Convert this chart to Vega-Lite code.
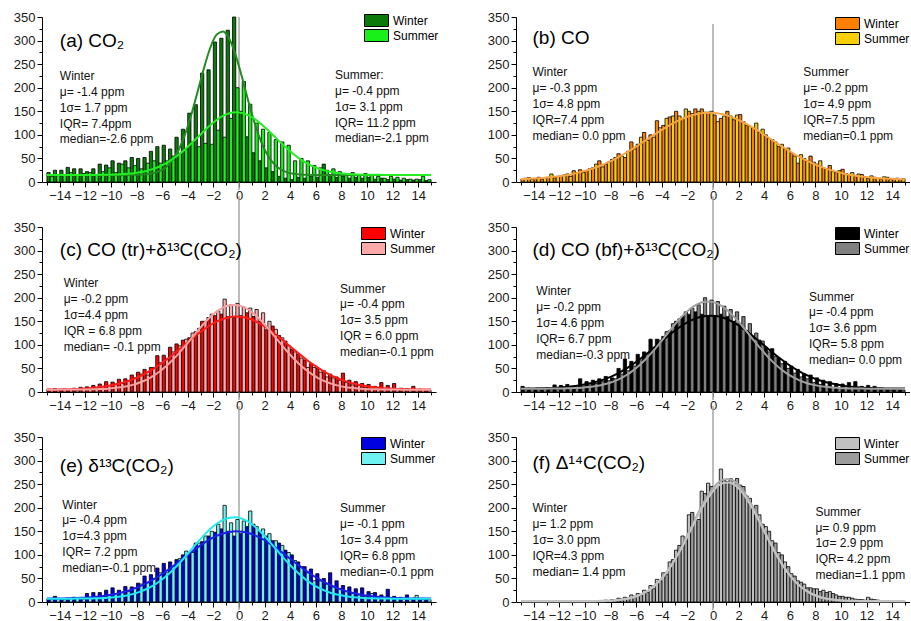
{
"$schema": "https://vega.github.io/schema/vega-lite/v6.json",
"padding": {"left": 13, "top": 11, "right": 0, "bottom": 0},
"config": {
  "view": {"stroke": null},
  "font": "Liberation Sans",
  "axis": {"domainColor": "#000", "tickColor": "#000", "labelColor": "#1a1a1a", "labelFontSize": 13, "labelPadding": 2, "grid": false, "tickSize": 5},
  "legend": {"orient": "top-right", "offset": 0, "padding": 0, "symbolType": "M-2,-1H2V1H-2Z", "symbolSize": 144, "symbolStrokeColor": "#000", "symbolStrokeWidth": 1, "labelFontSize": 12, "labelColor": "#000", "labelOffset": 10, "rowPadding": -2}
},
"resolve": {"scale": {"fill": "independent"}, "legend": {"fill": "independent"}},
"datasets": {
"a": [
{"x":-15,"fW":15,"fS":15},
{"x":-14.75,"W":20,"S":12,"fW":15,"fS":15},
{"x":-14.25,"W":25,"S":14,"fW":15,"fS":15},
{"x":-13.75,"W":25,"S":15,"fW":15,"fS":15},
{"x":-13.25,"W":31,"S":20,"fW":15,"fS":15},
{"x":-12.75,"W":28,"S":15,"fW":15,"fS":15},
{"x":-12.25,"W":28,"S":18,"fW":15,"fS":15},
{"x":-11.75,"W":22,"S":20,"fW":15,"fS":15},
{"x":-11.25,"W":28,"S":15,"fW":15,"fS":15.1},
{"x":-10.75,"W":38,"S":22,"fW":15,"fS":15.3},
{"x":-10.25,"W":36,"S":30,"fW":15,"fS":15.5},
{"x":-9.75,"W":45,"S":20,"fW":15,"fS":15.8},
{"x":-9.25,"W":40,"S":38,"fW":15,"fS":16.4},
{"x":-8.75,"W":45,"S":30,"fW":15.1,"fS":17.3},
{"x":-8.25,"W":52,"S":35,"fW":15.2,"fS":18.6},
{"x":-7.75,"W":50,"S":28,"fW":15.5,"fS":20.6},
{"x":-7.25,"W":52,"S":40,"fW":16.4,"fS":23.4},
{"x":-6.75,"W":65,"S":45,"fW":18.4,"fS":27.3},
{"x":-6.25,"W":75,"S":40,"fW":22.5,"fS":32.4},
{"x":-5.75,"W":78,"S":45,"fW":30.4,"fS":39},
{"x":-5.25,"W":70,"S":55,"fW":44.2,"fS":47.3},
{"x":-4.75,"W":95,"S":60,"fW":66.2,"fS":57.1},
{"x":-4.25,"W":112,"S":70,"fW":98.3,"fS":68.5},
{"x":-3.75,"W":146,"S":85,"fW":140.4,"fS":81},
{"x":-3.25,"W":164,"S":75,"fW":189.8,"fS":94.3},
{"x":-2.75,"W":231,"S":82,"fW":240.4,"fS":107.7},
{"x":-2.25,"W":238,"S":80,"fW":284.2,"fS":120.3},
{"x":-1.75,"W":297,"S":110,"fW":312.6,"fS":131.4},
{"x":-1.25,"W":305,"S":95,"fW":319.5,"fS":140.1},
{"x":-0.75,"W":322,"S":135,"fW":303.5,"fS":145.8},
{"x":-0.25,"W":350,"S":200,"fW":268.1,"fS":148},
{"x":0.25,"W":150,"S":213,"fW":220.5,"fS":146.5},
{"x":0.75,"W":96,"S":165,"fW":169.3,"fS":141.5},
{"x":1.25,"W":62,"S":125,"fW":122.4,"fS":133.4},
{"x":1.75,"W":45,"S":112,"fW":84.2,"fS":122.7},
{"x":2.25,"W":30,"S":105,"fW":56.3,"fS":110.3},
{"x":2.75,"W":22,"S":90,"fW":37.8,"fS":97},
{"x":3.25,"W":12,"S":85,"fW":26.7,"fS":83.7},
{"x":3.75,"W":8,"S":78,"fW":20.5,"fS":70.9},
{"x":4.25,"W":5,"S":45,"fW":17.4,"fS":59.3},
{"x":4.75,"W":10,"S":50,"fW":16,"fS":49.1},
{"x":5.25,"W":8,"S":45,"fW":15.4,"fS":40.5},
{"x":5.75,"W":12,"S":35,"fW":15.1,"fS":33.6},
{"x":6.25,"W":10,"S":30,"fW":15,"fS":28.2},
{"x":6.75,"W":38,"S":25,"fW":15,"fS":24.1},
{"x":7.25,"W":15,"S":28,"fW":15,"fS":21.1},
{"x":7.75,"W":10,"S":22,"fW":15,"fS":19},
{"x":8.25,"W":12,"S":18,"fW":15,"fS":17.5},
{"x":8.75,"W":8,"S":20,"fW":15,"fS":16.6},
{"x":9.25,"W":10,"S":15,"fW":15,"fS":15.9},
{"x":9.75,"W":8,"S":18,"fW":15,"fS":15.5},
{"x":10.25,"W":10,"S":15,"fW":15,"fS":15.3},
{"x":10.75,"W":6,"S":12,"fW":15,"fS":15.2},
{"x":11.25,"W":8,"S":8,"fW":15,"fS":15.1},
{"x":11.75,"W":5,"S":12,"fW":15,"fS":15},
{"x":12.25,"W":6,"S":10,"fW":15,"fS":15},
{"x":12.75,"W":4,"S":8,"fW":15,"fS":15},
{"x":13.25,"W":5,"S":6,"fW":15,"fS":15},
{"x":13.75,"W":4,"S":6,"fW":15,"fS":15},
{"x":14.25,"W":5,"S":12,"fW":15,"fS":15},
{"x":14.75,"W":3,"S":5,"fW":15,"fS":15},
{"x":15,"fW":15,"fS":15}
],
"b": [
{"x":-15,"fW":6.3},
{"x":-14.75,"W":6,"S":8,"fW":6.5},
{"x":-14.25,"W":9,"S":5,"fW":7.1},
{"x":-13.75,"W":7,"S":10,"fW":7.8},
{"x":-13.25,"W":6,"S":9,"fW":8.7},
{"x":-12.75,"W":10,"S":17,"fW":9.9},
{"x":-12.25,"W":9,"S":12,"fW":11.4},
{"x":-11.75,"W":13,"S":15,"fW":13.3},
{"x":-11.25,"W":17,"S":12,"fW":15.5},
{"x":-10.75,"W":24,"S":20,"fW":18.3},
{"x":-10.25,"W":26,"S":20,"fW":21.6},
{"x":-9.75,"W":24,"S":28,"fW":25.4},
{"x":-9.25,"W":30,"S":38,"fW":30},
{"x":-8.75,"W":45,"S":32,"fW":35.1},
{"x":-8.25,"W":38,"S":42,"fW":41},
{"x":-7.75,"W":48,"S":52,"fW":47.6},
{"x":-7.25,"W":60,"S":55,"fW":54.8},
{"x":-6.75,"W":52,"S":65,"fW":62.6},
{"x":-6.25,"W":85,"S":70,"fW":70.9},
{"x":-5.75,"W":80,"S":95,"fW":79.5},
{"x":-5.25,"W":105,"S":88,"fW":88.4},
{"x":-4.75,"W":100,"S":95,"fW":97.4},
{"x":-4.25,"W":130,"S":115,"fW":106.2},
{"x":-3.75,"W":120,"S":135,"fW":114.7},
{"x":-3.25,"W":138,"S":140,"fW":122.6},
{"x":-2.75,"W":150,"S":140,"fW":129.7},
{"x":-2.25,"W":135,"S":155,"fW":135.8},
{"x":-1.75,"W":150,"S":145,"fW":140.7},
{"x":-1.25,"W":155,"S":150,"fW":144.2},
{"x":-0.75,"W":155,"S":148,"fW":146.4},
{"x":-0.25,"W":148,"S":150,"fW":147},
{"x":0.25,"W":142,"S":128,"fW":146.1},
{"x":0.75,"W":135,"S":140,"fW":143.6},
{"x":1.25,"W":150,"S":140,"fW":139.8},
{"x":1.75,"W":132,"S":142,"fW":134.6},
{"x":2.25,"W":143,"S":128,"fW":128.3},
{"x":2.75,"W":120,"S":118,"fW":121},
{"x":3.25,"W":115,"S":125,"fW":113},
{"x":3.75,"W":105,"S":112,"fW":104.5},
{"x":4.25,"W":100,"S":92,"fW":95.6},
{"x":4.75,"W":90,"S":85,"fW":86.7},
{"x":5.25,"W":75,"S":80,"fW":77.8},
{"x":5.75,"W":70,"S":72,"fW":69.2},
{"x":6.25,"W":62,"S":55,"fW":61},
{"x":6.75,"W":40,"S":58,"fW":53.3},
{"x":7.25,"W":50,"S":45,"fW":46.2},
{"x":7.75,"W":55,"S":42,"fW":39.8},
{"x":8.25,"W":38,"S":45,"fW":34.1},
{"x":8.75,"W":30,"S":28,"fW":29},
{"x":9.25,"W":35,"S":22,"fW":24.6},
{"x":9.75,"W":20,"S":24,"fW":20.9},
{"x":10.25,"W":27,"S":18,"fW":17.7},
{"x":10.75,"W":15,"S":20,"fW":15},
{"x":11.25,"W":12,"S":17,"fW":12.9},
{"x":11.75,"W":16,"S":10,"fW":11.1},
{"x":12.25,"W":8,"S":13,"fW":9.7},
{"x":12.75,"W":10,"S":8,"fW":8.5},
{"x":13.25,"W":6,"S":11,"fW":7.6},
{"x":13.75,"W":10,"S":5,"fW":7},
{"x":14.25,"W":6,"S":8,"fW":6.4},
{"x":14.75,"W":5,"S":7,"fW":6},
{"x":15,"fW":5.9}
],
"c": [
{"x":-15,"fW":5.2,"fS":5},
{"x":-14.75,"W":6,"S":5,"fW":5.3,"fS":5},
{"x":-14.25,"W":7,"S":4,"fW":5.4,"fS":5},
{"x":-13.75,"W":6,"S":7,"fW":5.7,"fS":5.1},
{"x":-13.25,"W":5,"S":6,"fW":6,"fS":5.1},
{"x":-12.75,"W":8,"S":4,"fW":6.4,"fS":5.2},
{"x":-12.25,"W":10,"S":7,"fW":7.1,"fS":5.3},
{"x":-11.75,"W":11,"S":6,"fW":7.9,"fS":5.5},
{"x":-11.25,"W":14,"S":8,"fW":9.1,"fS":5.8},
{"x":-10.75,"W":17,"S":12,"fW":10.6,"fS":6.3},
{"x":-10.25,"W":22,"S":14,"fW":12.7,"fS":7.1},
{"x":-9.75,"W":21,"S":17,"fW":15.3,"fS":8.3},
{"x":-9.25,"W":27,"S":18,"fW":18.5,"fS":9.9},
{"x":-8.75,"W":28,"S":24,"fW":22.6,"fS":12.3},
{"x":-8.25,"W":36,"S":30,"fW":27.5,"fS":15.6},
{"x":-7.75,"W":42,"S":38,"fW":33.4,"fS":20.1},
{"x":-7.25,"W":48,"S":36,"fW":40.3,"fS":25.9},
{"x":-6.75,"W":52,"S":52,"fW":48.2,"fS":33.3},
{"x":-6.25,"W":77,"S":62,"fW":57.2,"fS":42.4},
{"x":-5.75,"W":78,"S":70,"fW":67,"fS":53.4},
{"x":-5.25,"W":95,"S":85,"fW":77.5,"fS":66.2},
{"x":-4.75,"W":102,"S":98,"fW":88.7,"fS":80.4},
{"x":-4.25,"W":110,"S":112,"fW":100.1,"fS":96.1},
{"x":-3.75,"W":115,"S":125,"fW":111.5,"fS":112.5},
{"x":-3.25,"W":128,"S":135,"fW":122.5,"fS":129},
{"x":-2.75,"W":150,"S":150,"fW":132.7,"fS":144.7},
{"x":-2.25,"W":158,"S":165,"fW":141.8,"fS":158.9},
{"x":-1.75,"W":162,"S":172,"fW":149.3,"fS":170.6},
{"x":-1.25,"W":165,"S":197,"fW":155,"fS":179.1},
{"x":-0.75,"W":160,"S":185,"fW":158.6,"fS":183.9},
{"x":-0.25,"W":158,"S":188,"fW":160,"fS":184.8},
{"x":0.25,"W":162,"S":180,"fW":159,"fS":181.6},
{"x":0.75,"W":168,"S":178,"fW":155.9,"fS":174.4},
{"x":1.25,"W":160,"S":175,"fW":150.6,"fS":163.8},
{"x":1.75,"W":150,"S":168,"fW":143.5,"fS":150.6},
{"x":2.25,"W":132,"S":150,"fW":134.6,"fS":135.3},
{"x":2.75,"W":140,"S":133,"fW":124.6,"fS":119.1},
{"x":3.25,"W":120,"S":115,"fW":113.8,"fS":102.6},
{"x":3.75,"W":108,"S":98,"fW":102.5,"fS":86.5},
{"x":4.25,"W":90,"S":85,"fW":91,"fS":71.6},
{"x":4.75,"W":80,"S":72,"fW":79.8,"fS":58.3},
{"x":5.25,"W":68,"S":52,"fW":69,"fS":46.6},
{"x":5.75,"W":60,"S":52,"fW":59,"fS":36.7},
{"x":6.25,"W":50,"S":42,"fW":50,"fS":28.6},
{"x":6.75,"W":45,"S":32,"fW":41.8,"fS":22.2},
{"x":7.25,"W":38,"S":30,"fW":34.7,"fS":17.2},
{"x":7.75,"W":32,"S":25,"fW":28.6,"fS":13.5},
{"x":8.25,"W":40,"S":20,"fW":23.5,"fS":10.8},
{"x":8.75,"W":25,"S":15,"fW":19.3,"fS":8.9},
{"x":9.25,"W":22,"S":14,"fW":15.9,"fS":7.5},
{"x":9.75,"W":18,"S":10,"fW":13.2,"fS":6.6},
{"x":10.25,"W":16,"S":8,"fW":11,"fS":6},
{"x":10.75,"W":12,"S":7,"fW":9.4,"fS":5.6},
{"x":11.25,"W":20,"S":5,"fW":8.1,"fS":5.4},
{"x":11.75,"W":14,"S":6,"fW":7.2,"fS":5.2},
{"x":12.25,"W":18,"S":5,"fW":6.5,"fS":5.1},
{"x":12.75,"W":8,"S":4,"fW":6.1,"fS":5},
{"x":13.25,"W":7,"S":5,"fW":5.7,"fS":5},
{"x":13.75,"W":12,"S":4,"fW":5.5,"fS":5},
{"x":14.25,"W":6,"S":5,"fW":5.3,"fS":5},
{"x":14.75,"W":5,"S":4,"fW":5.2,"fS":5},
{"x":15,"fW":5.2,"fS":5}
],
"d": [
{"x":-15,"fW":7.2,"fS":7},
{"x":-14.75,"W":12,"S":5,"fW":7.3,"fS":7},
{"x":-14.25,"W":8,"S":6,"fW":7.4,"fS":7},
{"x":-13.75,"W":7,"S":5,"fW":7.7,"fS":7.1},
{"x":-13.25,"W":6,"S":7,"fW":8,"fS":7.1},
{"x":-12.75,"W":8,"S":5,"fW":8.4,"fS":7.2},
{"x":-12.25,"W":15,"S":6,"fW":9.1,"fS":7.3},
{"x":-11.75,"W":14,"S":8,"fW":9.9,"fS":7.5},
{"x":-11.25,"W":16,"S":9,"fW":11.1,"fS":7.8},
{"x":-10.75,"W":12,"S":10,"fW":12.6,"fS":8.3},
{"x":-10.25,"W":28,"S":12,"fW":14.7,"fS":9.2},
{"x":-9.75,"W":22,"S":15,"fW":17.3,"fS":10.4},
{"x":-9.25,"W":25,"S":18,"fW":20.5,"fS":12.1},
{"x":-8.75,"W":28,"S":22,"fW":24.6,"fS":14.5},
{"x":-8.25,"W":33,"S":24,"fW":29.5,"fS":17.9},
{"x":-7.75,"W":30,"S":28,"fW":35.4,"fS":22.5},
{"x":-7.25,"W":50,"S":38,"fW":42.3,"fS":28.5},
{"x":-6.75,"W":70,"S":45,"fW":50.2,"fS":36.1},
{"x":-6.25,"W":65,"S":55,"fW":59.2,"fS":45.4},
{"x":-5.75,"W":80,"S":68,"fW":69,"fS":56.7},
{"x":-5.25,"W":85,"S":80,"fW":79.5,"fS":69.9},
{"x":-4.75,"W":112,"S":95,"fW":90.7,"fS":84.5},
{"x":-4.25,"W":112,"S":110,"fW":102.1,"fS":100.6},
{"x":-3.75,"W":118,"S":128,"fW":113.5,"fS":117.5},
{"x":-3.25,"W":130,"S":145,"fW":124.5,"fS":134.5},
{"x":-2.75,"W":150,"S":155,"fW":134.7,"fS":150.6},
{"x":-2.25,"W":160,"S":170,"fW":143.8,"fS":165.2},
{"x":-1.75,"W":165,"S":178,"fW":151.3,"fS":177.2},
{"x":-1.25,"W":170,"S":185,"fW":157,"fS":186},
{"x":-0.75,"W":165,"S":200,"fW":160.6,"fS":190.9},
{"x":-0.25,"W":160,"S":195,"fW":162,"fS":191.8},
{"x":0.25,"W":162,"S":192,"fW":161,"fS":188.5},
{"x":0.75,"W":165,"S":182,"fW":157.9,"fS":181.1},
{"x":1.25,"W":160,"S":175,"fW":152.6,"fS":170.2},
{"x":1.75,"W":150,"S":170,"fW":145.5,"fS":156.6},
{"x":2.25,"W":145,"S":160,"fW":136.6,"fS":140.9},
{"x":2.75,"W":130,"S":145,"fW":126.6,"fS":124.3},
{"x":3.25,"W":118,"S":125,"fW":115.8,"fS":107.3},
{"x":3.75,"W":110,"S":108,"fW":104.5,"fS":91.3},
{"x":4.25,"W":95,"S":85,"fW":93,"fS":75.5},
{"x":4.75,"W":92,"S":75,"fW":81.8,"fS":61.8},
{"x":5.25,"W":72,"S":60,"fW":71,"fS":49.8},
{"x":5.75,"W":65,"S":50,"fW":61,"fS":39.6},
{"x":6.25,"W":55,"S":40,"fW":52,"fS":31.3},
{"x":6.75,"W":48,"S":32,"fW":43.8,"fS":24.7},
{"x":7.25,"W":38,"S":28,"fW":36.7,"fS":19.5},
{"x":7.75,"W":36,"S":20,"fW":30.6,"fS":15.7},
{"x":8.25,"W":30,"S":16,"fW":25.5,"fS":13},
{"x":8.75,"W":25,"S":12,"fW":21.3,"fS":11},
{"x":9.25,"W":22,"S":10,"fW":17.9,"fS":9.6},
{"x":9.75,"W":18,"S":9,"fW":15.2,"fS":8.7},
{"x":10.25,"W":17,"S":8,"fW":13,"fS":8},
{"x":10.75,"W":20,"S":7,"fW":11.4,"fS":7.6},
{"x":11.25,"W":22,"S":6,"fW":10.1,"fS":7.4},
{"x":11.75,"W":12,"S":5,"fW":9.2,"fS":7.2},
{"x":12.25,"W":14,"S":6,"fW":8.5,"fS":7.1},
{"x":12.75,"W":12,"S":5,"fW":8.1,"fS":7},
{"x":13.25,"W":8,"S":5,"fW":7.7,"fS":7},
{"x":13.75,"W":7,"S":4,"fW":7.5,"fS":7},
{"x":14.25,"W":6,"S":5,"fW":7.3,"fS":7},
{"x":14.75,"W":5,"S":4,"fW":7.2,"fS":7},
{"x":15,"fW":7.2,"fS":7}
],
"e": [
{"x":-15,"fW":7.2,"fS":7},
{"x":-14.75,"W":7,"S":5,"fW":7.3,"fS":7},
{"x":-14.25,"W":12,"S":6,"fW":7.4,"fS":7},
{"x":-13.75,"W":6,"S":5,"fW":7.6,"fS":7},
{"x":-13.25,"W":8,"S":7,"fW":7.9,"fS":7},
{"x":-12.75,"W":10,"S":8,"fW":8.3,"fS":7.2},
{"x":-12.25,"W":9,"S":6,"fW":8.9,"fS":7.3},
{"x":-11.75,"W":18,"S":8,"fW":9.7,"fS":7.5},
{"x":-11.25,"W":20,"S":10,"fW":10.8,"fS":7.8},
{"x":-10.75,"W":20,"S":12,"fW":12.2,"fS":8.2},
{"x":-10.25,"W":25,"S":14,"fW":14.1,"fS":9},
{"x":-9.75,"W":30,"S":18,"fW":16.5,"fS":10.2},
{"x":-9.25,"W":25,"S":20,"fW":19.5,"fS":11.7},
{"x":-8.75,"W":33,"S":22,"fW":23.2,"fS":14},
{"x":-8.25,"W":32,"S":30,"fW":27.8,"fS":17.2},
{"x":-7.75,"W":40,"S":38,"fW":33.2,"fS":21.5},
{"x":-7.25,"W":55,"S":42,"fW":39.6,"fS":27.1},
{"x":-6.75,"W":58,"S":50,"fW":46.9,"fS":34.2},
{"x":-6.25,"W":72,"S":62,"fW":55.2,"fS":43},
{"x":-5.75,"W":82,"S":62,"fW":64.2,"fS":53.5},
{"x":-5.25,"W":85,"S":75,"fW":73.9,"fS":65.8},
{"x":-4.75,"W":90,"S":92,"fW":84.2,"fS":79.5},
{"x":-4.25,"W":100,"S":108,"fW":94.7,"fS":94.6},
{"x":-3.75,"W":102,"S":105,"fW":105.3,"fS":110.3},
{"x":-3.25,"W":125,"S":125,"fW":115.4,"fS":126.2},
{"x":-2.75,"W":128,"S":140,"fW":124.8,"fS":141.3},
{"x":-2.25,"W":140,"S":150,"fW":133.2,"fS":154.9},
{"x":-1.75,"W":148,"S":165,"fW":140.1,"fS":166.1},
{"x":-1.25,"W":155,"S":205,"fW":145.4,"fS":174.3},
{"x":-0.75,"W":150,"S":168,"fW":148.7,"fS":178.9},
{"x":-0.25,"W":140,"S":175,"fW":150,"fS":179.8},
{"x":0.25,"W":145,"S":172,"fW":149.1,"fS":176.7},
{"x":0.75,"W":160,"S":193,"fW":146.2,"fS":169.8},
{"x":1.25,"W":165,"S":160,"fW":141.3,"fS":159.6},
{"x":1.75,"W":150,"S":155,"fW":134.8,"fS":146.9},
{"x":2.25,"W":140,"S":145,"fW":126.6,"fS":132.2},
{"x":2.75,"W":130,"S":130,"fW":117.4,"fS":116.6},
{"x":3.25,"W":125,"S":120,"fW":107.4,"fS":100.8},
{"x":3.75,"W":110,"S":105,"fW":97,"fS":85.3},
{"x":4.25,"W":100,"S":88,"fW":86.4,"fS":71},
{"x":4.75,"W":85,"S":75,"fW":76,"fS":58.2},
{"x":5.25,"W":75,"S":62,"fW":66.1,"fS":46.9},
{"x":5.75,"W":70,"S":45,"fW":56.8,"fS":37.5},
{"x":6.25,"W":60,"S":45,"fW":48.5,"fS":29.7},
{"x":6.75,"W":50,"S":38,"fW":40.9,"fS":23.5},
{"x":7.25,"W":62,"S":32,"fW":34.4,"fS":18.7},
{"x":7.75,"W":45,"S":28,"fW":28.8,"fS":15.2},
{"x":8.25,"W":35,"S":22,"fW":24.1,"fS":12.6},
{"x":8.75,"W":32,"S":18,"fW":20.2,"fS":10.7},
{"x":9.25,"W":28,"S":15,"fW":17.1,"fS":9.4},
{"x":9.75,"W":30,"S":12,"fW":14.6,"fS":8.5},
{"x":10.25,"W":22,"S":18,"fW":12.5,"fS":7.9},
{"x":10.75,"W":20,"S":10,"fW":11.1,"fS":7.6},
{"x":11.25,"W":15,"S":8,"fW":9.9,"fS":7.4},
{"x":11.75,"W":27,"S":8,"fW":9,"fS":7.2},
{"x":12.25,"W":12,"S":7,"fW":8.4,"fS":7.1},
{"x":12.75,"W":10,"S":6,"fW":8,"fS":7},
{"x":13.25,"W":15,"S":5,"fW":7.6,"fS":7},
{"x":13.75,"W":8,"S":14,"fW":7.5,"fS":7},
{"x":14.25,"W":7,"S":5,"fW":7.3,"fS":7},
{"x":14.75,"W":6,"S":5,"fW":7.2,"fS":7},
{"x":15,"fW":7.2,"fS":7}
],
"f": [
{"x":-15,"fW":1,"fS":2},
{"x":-14.75,"W":0,"S":0,"fW":1,"fS":2},
{"x":-14.25,"W":0,"S":0,"fW":1,"fS":2},
{"x":-13.75,"W":0,"S":0,"fW":1,"fS":2},
{"x":-13.25,"W":1,"S":0,"fW":1,"fS":2},
{"x":-12.75,"W":0,"S":0,"fW":1,"fS":2},
{"x":-12.25,"W":0,"S":1,"fW":1,"fS":2},
{"x":-11.75,"W":1,"S":0,"fW":1,"fS":2},
{"x":-11.25,"W":0,"S":0,"fW":1,"fS":2},
{"x":-10.75,"W":1,"S":1,"fW":1,"fS":2},
{"x":-10.25,"W":1,"S":0,"fW":1,"fS":2},
{"x":-9.75,"W":2,"S":1,"fW":1,"fS":2},
{"x":-9.25,"W":1,"S":2,"fW":1.3,"fS":2.3},
{"x":-8.75,"W":3,"S":2,"fW":1.5,"fS":2.5},
{"x":-8.25,"W":4,"S":3,"fW":2,"fS":3},
{"x":-7.75,"W":5,"S":4,"fW":2.8,"fS":3.7},
{"x":-7.25,"W":8,"S":6,"fW":4,"fS":4.9},
{"x":-6.75,"W":10,"S":8,"fW":6.1,"fS":6.9},
{"x":-6.25,"W":15,"S":12,"fW":9.3,"fS":10},
{"x":-5.75,"W":18,"S":14,"fW":14,"fS":14.6},
{"x":-5.25,"W":25,"S":20,"fW":20.9,"fS":21.3},
{"x":-4.75,"W":35,"S":28,"fW":30.3,"fS":30.4},
{"x":-4.25,"W":48,"S":45,"fW":42.9,"fS":42.6},
{"x":-3.75,"W":62,"S":58,"fW":59,"fS":58.2},
{"x":-3.25,"W":85,"S":90,"fW":78.7,"fS":77.3},
{"x":-2.75,"W":110,"S":120,"fW":102.1,"fS":100},
{"x":-2.25,"W":140,"S":130,"fW":128.1,"fS":125.2},
{"x":-1.75,"W":185,"S":190,"fW":156,"fS":152.2},
{"x":-1.25,"W":175,"S":175,"fW":183.8,"fS":179.2},
{"x":-0.75,"W":235,"S":230,"fW":210,"fS":204.6},
{"x":-0.25,"W":252,"S":245,"fW":232.4,"fS":226.3},
{"x":0.25,"W":240,"S":245,"fW":249.3,"fS":242.7},
{"x":0.75,"W":282,"S":258,"fW":258.9,"fS":252},
{"x":1.25,"W":255,"S":262,"fW":260.7,"fS":253.7},
{"x":1.75,"W":250,"S":262,"fW":254.2,"fS":247.4},
{"x":2.25,"W":248,"S":245,"fW":240,"fS":233.6},
{"x":2.75,"W":225,"S":220,"fW":219.7,"fS":213.9},
{"x":3.25,"W":200,"S":205,"fW":194.7,"fS":189.7},
{"x":3.75,"W":185,"S":165,"fW":167.1,"fS":163},
{"x":4.25,"W":160,"S":150,"fW":139.1,"fS":135.8},
{"x":4.75,"W":130,"S":125,"fW":112.3,"fS":109.9},
{"x":5.25,"W":105,"S":100,"fW":87.6,"fS":85.9},
{"x":5.75,"W":85,"S":75,"fW":66.5,"fS":65.5},
{"x":6.25,"W":60,"S":55,"fW":48.8,"fS":48.4},
{"x":6.75,"W":45,"S":42,"fW":35,"fS":34.9},
{"x":7.25,"W":38,"S":30,"fW":24.3,"fS":24.6},
{"x":7.75,"W":30,"S":28,"fW":16.5,"fS":17},
{"x":8.25,"W":28,"S":22,"fW":11,"fS":11.7},
{"x":8.75,"W":25,"S":20,"fW":7.2,"fS":8},
{"x":9.25,"W":22,"S":18,"fW":4.8,"fS":5.7},
{"x":9.75,"W":15,"S":12,"fW":3.2,"fS":4.1},
{"x":10.25,"W":12,"S":10,"fW":2.2,"fS":3.2},
{"x":10.75,"W":10,"S":8,"fW":1.7,"fS":2.7},
{"x":11.25,"W":6,"S":5,"fW":1.4,"fS":2.4},
{"x":11.75,"W":5,"S":4,"fW":1,"fS":2},
{"x":12.25,"W":10,"S":6,"fW":1,"fS":2},
{"x":12.75,"W":5,"S":4,"fW":1,"fS":2},
{"x":13.25,"W":2,"S":3,"fW":1,"fS":2},
{"x":13.75,"W":2,"S":1,"fW":1,"fS":2},
{"x":14.25,"W":1,"S":2,"fW":1,"fS":2},
{"x":14.75,"W":1,"S":1,"fW":1,"fS":2},
{"x":15,"fW":1,"fS":2}
]
},
"columns": 2,
"spacing": {"row": 45, "column": 80},
"bounds": "flush",
"concat": [
{
 "width": 394, "height": 165,
 "data": {"name": "a"},
 "resolve": {"axis": {"x": "independent", "y": "independent"}},
 "layer": [
  {"data": {"values": [{}]}, "mark": {"type": "rule", "color": "#a6a6a6", "strokeWidth": 1.5},
   "encoding": {
    "x": {"datum": 0, "type": "quantitative", "axis": {"orient": "bottom", "values": [-15,-13,-11,-9,-7,-5,-3,-1,1,3,5,7,9,11,13,15], "labels": false, "domain": false, "tickSize": 3, "title": null}},
    "y": {"datum": -17, "type": "quantitative", "axis": {"orient": "left", "values": [25,75,125,175,225,275,325], "labels": false, "domain": false, "tickSize": 3, "title": null}},
    "y2": {"datum": 350}}},
  {"mark": {"type": "bar", "width": 3.27, "xOffset": -1.64, "stroke": "#000", "strokeWidth": 0.8},
   "encoding": {
    "x": {"field": "x", "type": "quantitative", "title": null, "scale": {"domain": [-15, 15], "nice": false, "zero": false}, "axis": {"orient": "bottom", "tickCount": 15, "labelOverlap": false}},
    "y": {"field": "W", "type": "quantitative", "title": null, "scale": {"domain": [0, 350], "nice": false}, "axis": {"orient": "left", "tickCount": 7, "labelOverlap": false}},
    "fill": {"datum": "Winter", "type": "nominal", "scale": {"domain": ["Winter", "Summer"], "range": ["#0b7a0b", "#19ef19"]}, "legend": {"title": null, "offset": -3}}}},
  {"mark": {"type": "bar", "width": 3.27, "xOffset": 1.64, "stroke": "#000", "strokeWidth": 0.8},
   "encoding": {"x": {"field": "x", "type": "quantitative", "axis": null}, "y": {"field": "S", "type": "quantitative", "axis": null}, "fill": {"datum": "Summer", "type": "nominal"}}},
  {"mark": {"type": "line", "interpolate": "monotone", "strokeWidth": 2, "color": "#238a23"},
   "encoding": {"x": {"field": "x", "type": "quantitative", "axis": null}, "y": {"field": "fW", "type": "quantitative", "axis": null}}},
  {"mark": {"type": "line", "interpolate": "monotone", "strokeWidth": 2, "color": "#22ee22"},
   "encoding": {"x": {"field": "x", "type": "quantitative", "axis": null}, "y": {"field": "fS", "type": "quantitative", "axis": null}}},
  {"data": {"values": [{}]}, "mark": {"type": "text", "align": "left", "baseline": "alphabetic", "fontSize": 19, "color": "#000"},
   "encoding": {"x": {"datum": -14, "axis": null}, "y": {"datum": 286, "axis": null}, "text": {"value": "(a) CO₂"}}},
  {"data": {"values": [{}]}, "mark": {"type": "text", "align": "left", "baseline": "alphabetic", "fontSize": 12, "lineHeight": 15.8, "color": "#111"},
   "encoding": {"x": {"datum": -14, "axis": null}, "y": {"datum": 216, "axis": null}, "text": {"value": ["Winter", "μ= -1.4 ppm", "1σ= 1.7 ppm", "IQR= 7.4ppm", "median=-2.6 ppm"]}}},
  {"data": {"values": [{}]}, "mark": {"type": "text", "align": "left", "baseline": "alphabetic", "fontSize": 12, "lineHeight": 15.8, "color": "#111"},
   "encoding": {"x": {"datum": 7.5, "axis": null}, "y": {"datum": 218, "axis": null}, "text": {"value": ["Summer:", "μ= -0.4 ppm", "1σ= 3.1 ppm", "IQR= 11.2 ppm", "median=-2.1 ppm"]}}}
 ]
},
{
 "width": 394, "height": 165,
 "data": {"name": "b"},
 "resolve": {"axis": {"x": "independent", "y": "independent"}},
 "layer": [
  {"data": {"values": [{}]}, "mark": {"type": "rule", "color": "#a6a6a6", "strokeWidth": 1.5},
   "encoding": {
    "x": {"datum": 0, "type": "quantitative", "axis": {"orient": "bottom", "values": [-15,-13,-11,-9,-7,-5,-3,-1,1,3,5,7,9,11,13,15], "labels": false, "domain": false, "tickSize": 3, "title": null}},
    "y": {"datum": -17, "type": "quantitative", "axis": {"orient": "left", "values": [25,75,125,175,225,275,325], "labels": false, "domain": false, "tickSize": 3, "title": null}},
    "y2": {"datum": 335}}},
  {"mark": {"type": "bar", "width": 3.27, "xOffset": -1.64, "stroke": "#000", "strokeWidth": 0.8},
   "encoding": {
    "x": {"field": "x", "type": "quantitative", "title": null, "scale": {"domain": [-15, 15], "nice": false, "zero": false}, "axis": {"orient": "bottom", "tickCount": 15, "labelOverlap": false}},
    "y": {"field": "W", "type": "quantitative", "title": null, "scale": {"domain": [0, 350], "nice": false}, "axis": {"orient": "left", "tickCount": 7, "labelOverlap": false}},
    "fill": {"datum": "Winter", "type": "nominal", "scale": {"domain": ["Winter", "Summer"], "range": ["#ff7f00", "#f7cf08"]}, "legend": {"title": null}}}},
  {"mark": {"type": "bar", "width": 3.27, "xOffset": 1.64, "stroke": "#000", "strokeWidth": 0.8},
   "encoding": {"x": {"field": "x", "type": "quantitative", "axis": null}, "y": {"field": "S", "type": "quantitative", "axis": null}, "fill": {"datum": "Summer", "type": "nominal"}}},
  {"mark": {"type": "line", "interpolate": "monotone", "strokeWidth": 2, "color": "#f7a445"},
   "encoding": {"x": {"field": "x", "type": "quantitative", "axis": null}, "y": {"field": "fW", "type": "quantitative", "axis": null}}},
  {"data": {"values": [{}]}, "mark": {"type": "text", "align": "left", "baseline": "alphabetic", "fontSize": 19, "color": "#000"},
   "encoding": {"x": {"datum": -14.1, "axis": null}, "y": {"datum": 292, "axis": null}, "text": {"value": "(b) CO"}}},
  {"data": {"values": [{}]}, "mark": {"type": "text", "align": "left", "baseline": "alphabetic", "fontSize": 12, "lineHeight": 15.8, "color": "#111"},
   "encoding": {"x": {"datum": -14.1, "axis": null}, "y": {"datum": 224, "axis": null}, "text": {"value": ["Winter", "μ= -0.3 ppm", "1σ= 4.8 ppm", "IQR=7.4 ppm", "median= 0.0 ppm"]}}},
  {"data": {"values": [{}]}, "mark": {"type": "text", "align": "left", "baseline": "alphabetic", "fontSize": 12, "lineHeight": 15.8, "color": "#111"},
   "encoding": {"x": {"datum": 7.06, "axis": null}, "y": {"datum": 224, "axis": null}, "text": {"value": ["Summer", "μ= -0.2 ppm", "1σ= 4.9 ppm", "IQR=7.5 ppm", "median=0.1 ppm"]}}}
 ]
},
{
 "width": 394, "height": 165,
 "data": {"name": "c"},
 "resolve": {"axis": {"x": "independent", "y": "independent"}},
 "layer": [
  {"data": {"values": [{}]}, "mark": {"type": "rule", "color": "#a6a6a6", "strokeWidth": 1.5},
   "encoding": {
    "x": {"datum": 0, "type": "quantitative", "axis": {"orient": "bottom", "values": [-15,-13,-11,-9,-7,-5,-3,-1,1,3,5,7,9,11,13,15], "labels": false, "domain": false, "tickSize": 3, "title": null}},
    "y": {"datum": -17, "type": "quantitative", "axis": {"orient": "left", "values": [25,75,125,175,225,275,325], "labels": false, "domain": false, "tickSize": 3, "title": null}},
    "y2": {"datum": 415}}},
  {"mark": {"type": "bar", "width": 3.27, "xOffset": -1.64, "stroke": "#000", "strokeWidth": 0.8},
   "encoding": {
    "x": {"field": "x", "type": "quantitative", "title": null, "scale": {"domain": [-15, 15], "nice": false, "zero": false}, "axis": {"orient": "bottom", "tickCount": 15, "labelOverlap": false}},
    "y": {"field": "W", "type": "quantitative", "title": null, "scale": {"domain": [0, 350], "nice": false}, "axis": {"orient": "left", "tickCount": 7, "labelOverlap": false}},
    "fill": {"datum": "Winter", "type": "nominal", "scale": {"domain": ["Winter", "Summer"], "range": ["#ff0000", "#ffaaaa"]}, "legend": {"title": null}}}},
  {"mark": {"type": "bar", "width": 3.27, "xOffset": 1.64, "stroke": "#000", "strokeWidth": 0.8},
   "encoding": {"x": {"field": "x", "type": "quantitative", "axis": null}, "y": {"field": "S", "type": "quantitative", "axis": null}, "fill": {"datum": "Summer", "type": "nominal"}}},
  {"mark": {"type": "line", "interpolate": "monotone", "strokeWidth": 2, "color": "#ff1a1a"},
   "encoding": {"x": {"field": "x", "type": "quantitative", "axis": null}, "y": {"field": "fW", "type": "quantitative", "axis": null}}},
  {"mark": {"type": "line", "interpolate": "monotone", "strokeWidth": 2, "color": "#f6a0a0"},
   "encoding": {"x": {"field": "x", "type": "quantitative", "axis": null}, "y": {"field": "fS", "type": "quantitative", "axis": null}}},
  {"data": {"values": [{}]}, "mark": {"type": "text", "align": "left", "baseline": "alphabetic", "fontSize": 19, "color": "#000"},
   "encoding": {"x": {"datum": -14, "axis": null}, "y": {"datum": 289, "axis": null}, "text": {"value": "(c) CO (tr)+δ¹³C(CO₂)"}}},
  {"data": {"values": [{}]}, "mark": {"type": "text", "align": "left", "baseline": "alphabetic", "fontSize": 12, "lineHeight": 15.8, "color": "#111"},
   "encoding": {"x": {"datum": -13.7, "axis": null}, "y": {"datum": 222, "axis": null}, "text": {"value": ["Winter", "μ= -0.2 ppm", "1σ=4.4 ppm", "IQR = 6.8 ppm", "median= -0.1 ppm"]}}},
  {"data": {"values": [{}]}, "mark": {"type": "text", "align": "left", "baseline": "alphabetic", "fontSize": 12, "lineHeight": 15.8, "color": "#111"},
   "encoding": {"x": {"datum": 7.9, "axis": null}, "y": {"datum": 211, "axis": null}, "text": {"value": ["Summer", "μ= -0.4 ppm", "1σ= 3.5 ppm", "IQR = 6.0 ppm", "median=-0.1 ppm"]}}}
 ]
},
{
 "width": 394, "height": 165,
 "data": {"name": "d"},
 "resolve": {"axis": {"x": "independent", "y": "independent"}},
 "layer": [
  {"data": {"values": [{}]}, "mark": {"type": "rule", "color": "#a6a6a6", "strokeWidth": 1.5},
   "encoding": {
    "x": {"datum": 0, "type": "quantitative", "axis": {"orient": "bottom", "values": [-15,-13,-11,-9,-7,-5,-3,-1,1,3,5,7,9,11,13,15], "labels": false, "domain": false, "tickSize": 3, "title": null}},
    "y": {"datum": -17, "type": "quantitative", "axis": {"orient": "left", "values": [25,75,125,175,225,275,325], "labels": false, "domain": false, "tickSize": 3, "title": null}},
    "y2": {"datum": 415}}},
  {"mark": {"type": "bar", "width": 3.27, "xOffset": -1.64, "stroke": "#000", "strokeWidth": 0.8},
   "encoding": {
    "x": {"field": "x", "type": "quantitative", "title": null, "scale": {"domain": [-15, 15], "nice": false, "zero": false}, "axis": {"orient": "bottom", "tickCount": 15, "labelOverlap": false}},
    "y": {"field": "W", "type": "quantitative", "title": null, "scale": {"domain": [0, 350], "nice": false}, "axis": {"orient": "left", "tickCount": 7, "labelOverlap": false}},
    "fill": {"datum": "Winter", "type": "nominal", "scale": {"domain": ["Winter", "Summer"], "range": ["#000000", "#808080"]}, "legend": {"title": null}}}},
  {"mark": {"type": "bar", "width": 3.27, "xOffset": 1.64, "stroke": "#000", "strokeWidth": 0.8},
   "encoding": {"x": {"field": "x", "type": "quantitative", "axis": null}, "y": {"field": "S", "type": "quantitative", "axis": null}, "fill": {"datum": "Summer", "type": "nominal"}}},
  {"mark": {"type": "line", "interpolate": "monotone", "strokeWidth": 2, "color": "#000000"},
   "encoding": {"x": {"field": "x", "type": "quantitative", "axis": null}, "y": {"field": "fW", "type": "quantitative", "axis": null}}},
  {"mark": {"type": "line", "interpolate": "monotone", "strokeWidth": 2, "color": "#a0a0a0"},
   "encoding": {"x": {"field": "x", "type": "quantitative", "axis": null}, "y": {"field": "fS", "type": "quantitative", "axis": null}}},
  {"data": {"values": [{}]}, "mark": {"type": "text", "align": "left", "baseline": "alphabetic", "fontSize": 19, "color": "#000"},
   "encoding": {"x": {"datum": -14.1, "axis": null}, "y": {"datum": 288, "axis": null}, "text": {"value": "(d) CO (bf)+δ¹³C(CO₂)"}}},
  {"data": {"values": [{}]}, "mark": {"type": "text", "align": "left", "baseline": "alphabetic", "fontSize": 12, "lineHeight": 15.8, "color": "#111"},
   "encoding": {"x": {"datum": -13.8, "axis": null}, "y": {"datum": 205, "axis": null}, "text": {"value": ["Winter", "μ= -0.2 ppm", "1σ= 4.6 ppm", "IQR= 6.7 ppm", "median=-0.3 ppm"]}}},
  {"data": {"values": [{}]}, "mark": {"type": "text", "align": "left", "baseline": "alphabetic", "fontSize": 12, "lineHeight": 15.8, "color": "#111"},
   "encoding": {"x": {"datum": 7.5, "axis": null}, "y": {"datum": 194, "axis": null}, "text": {"value": ["Summer", "μ= -0.4 ppm", "1σ= 3.6 ppm", "IQR= 5.8 ppm", "median= 0.0 ppm"]}}}
 ]
},
{
 "width": 394, "height": 165,
 "data": {"name": "e"},
 "resolve": {"axis": {"x": "independent", "y": "independent"}},
 "layer": [
  {"data": {"values": [{}]}, "mark": {"type": "rule", "color": "#a6a6a6", "strokeWidth": 1.5},
   "encoding": {
    "x": {"datum": 0, "type": "quantitative", "axis": {"orient": "bottom", "values": [-15,-13,-11,-9,-7,-5,-3,-1,1,3,5,7,9,11,13,15], "labels": false, "domain": false, "tickSize": 3, "title": null}},
    "y": {"datum": -17, "type": "quantitative", "axis": {"orient": "left", "values": [25,75,125,175,225,275,325], "labels": false, "domain": false, "tickSize": 3, "title": null}},
    "y2": {"datum": 415}}},
  {"mark": {"type": "bar", "width": 3.27, "xOffset": -1.64, "stroke": "#000", "strokeWidth": 0.8},
   "encoding": {
    "x": {"field": "x", "type": "quantitative", "title": null, "scale": {"domain": [-15, 15], "nice": false, "zero": false}, "axis": {"orient": "bottom", "tickCount": 15, "labelOverlap": false}},
    "y": {"field": "W", "type": "quantitative", "title": null, "scale": {"domain": [0, 350], "nice": false}, "axis": {"orient": "left", "tickCount": 7, "labelOverlap": false}},
    "fill": {"datum": "Winter", "type": "nominal", "scale": {"domain": ["Winter", "Summer"], "range": ["#0000e0", "#70f2f2"]}, "legend": {"title": null}}}},
  {"mark": {"type": "bar", "width": 3.27, "xOffset": 1.64, "stroke": "#000", "strokeWidth": 0.8},
   "encoding": {"x": {"field": "x", "type": "quantitative", "axis": null}, "y": {"field": "S", "type": "quantitative", "axis": null}, "fill": {"datum": "Summer", "type": "nominal"}}},
  {"mark": {"type": "line", "interpolate": "monotone", "strokeWidth": 2, "color": "#1e1ee6"},
   "encoding": {"x": {"field": "x", "type": "quantitative", "axis": null}, "y": {"field": "fW", "type": "quantitative", "axis": null}}},
  {"mark": {"type": "line", "interpolate": "monotone", "strokeWidth": 2, "color": "#20eaf0"},
   "encoding": {"x": {"field": "x", "type": "quantitative", "axis": null}, "y": {"field": "fS", "type": "quantitative", "axis": null}}},
  {"data": {"values": [{}]}, "mark": {"type": "text", "align": "left", "baseline": "alphabetic", "fontSize": 19, "color": "#000"},
   "encoding": {"x": {"datum": -14, "axis": null}, "y": {"datum": 276, "axis": null}, "text": {"value": "(e) δ¹³C(CO₂)"}}},
  {"data": {"values": [{}]}, "mark": {"type": "text", "align": "left", "baseline": "alphabetic", "fontSize": 12, "lineHeight": 15.8, "color": "#111"},
   "encoding": {"x": {"datum": -13.8, "axis": null}, "y": {"datum": 198, "axis": null}, "text": {"value": ["Winter", "μ= -0.4 ppm", "1σ=4.3 ppm", "IQR= 7.2 ppm", "median=-0.1 ppm"]}}},
  {"data": {"values": [{}]}, "mark": {"type": "text", "align": "left", "baseline": "alphabetic", "fontSize": 12, "lineHeight": 15.8, "color": "#111"},
   "encoding": {"x": {"datum": 7.9, "axis": null}, "y": {"datum": 190, "axis": null}, "text": {"value": ["Summer", "μ= -0.1 ppm", "1σ= 3.4 ppm", "IQR= 6.8 ppm", "median=-0.1 ppm"]}}}
 ]
},
{
 "width": 394, "height": 165,
 "data": {"name": "f"},
 "resolve": {"axis": {"x": "independent", "y": "independent"}},
 "layer": [
  {"data": {"values": [{}]}, "mark": {"type": "rule", "color": "#a6a6a6", "strokeWidth": 1.5},
   "encoding": {
    "x": {"datum": 0, "type": "quantitative", "axis": {"orient": "bottom", "values": [-15,-13,-11,-9,-7,-5,-3,-1,1,3,5,7,9,11,13,15], "labels": false, "domain": false, "tickSize": 3, "title": null}},
    "y": {"datum": -17, "type": "quantitative", "axis": {"orient": "left", "values": [25,75,125,175,225,275,325], "labels": false, "domain": false, "tickSize": 3, "title": null}},
    "y2": {"datum": 415}}},
  {"mark": {"type": "bar", "width": 3.27, "xOffset": -1.64, "stroke": "#000", "strokeWidth": 0.8},
   "encoding": {
    "x": {"field": "x", "type": "quantitative", "title": null, "scale": {"domain": [-15, 15], "nice": false, "zero": false}, "axis": {"orient": "bottom", "tickCount": 15, "labelOverlap": false}},
    "y": {"field": "W", "type": "quantitative", "title": null, "scale": {"domain": [0, 350], "nice": false}, "axis": {"orient": "left", "tickCount": 7, "labelOverlap": false}},
    "fill": {"datum": "Winter", "type": "nominal", "scale": {"domain": ["Winter", "Summer"], "range": ["#c0c0c0", "#9c9c9c"]}, "legend": {"title": null}}}},
  {"mark": {"type": "bar", "width": 3.27, "xOffset": 1.64, "stroke": "#000", "strokeWidth": 0.8},
   "encoding": {"x": {"field": "x", "type": "quantitative", "axis": null}, "y": {"field": "S", "type": "quantitative", "axis": null}, "fill": {"datum": "Summer", "type": "nominal"}}},
  {"mark": {"type": "line", "interpolate": "monotone", "strokeWidth": 2, "color": "#a8a8a8"},
   "encoding": {"x": {"field": "x", "type": "quantitative", "axis": null}, "y": {"field": "fW", "type": "quantitative", "axis": null}}},
  {"mark": {"type": "line", "interpolate": "monotone", "strokeWidth": 2, "color": "#c4c4c4"},
   "encoding": {"x": {"field": "x", "type": "quantitative", "axis": null}, "y": {"field": "fS", "type": "quantitative", "axis": null}}},
  {"data": {"values": [{}]}, "mark": {"type": "text", "align": "left", "baseline": "alphabetic", "fontSize": 19, "color": "#000"},
   "encoding": {"x": {"datum": -14.1, "axis": null}, "y": {"datum": 283, "axis": null}, "text": {"value": "(f) Δ¹⁴C(CO₂)"}}},
  {"data": {"values": [{}]}, "mark": {"type": "text", "align": "left", "baseline": "alphabetic", "fontSize": 12, "lineHeight": 15.8, "color": "#111"},
   "encoding": {"x": {"datum": -14.1, "axis": null}, "y": {"datum": 190, "axis": null}, "text": {"value": ["Winter", "μ= 1.2 ppm", "1σ= 3.0 ppm", "IQR=4.3 ppm", "median= 1.4 ppm"]}}},
  {"data": {"values": [{}]}, "mark": {"type": "text", "align": "left", "baseline": "alphabetic", "fontSize": 12, "lineHeight": 15.8, "color": "#111"},
   "encoding": {"x": {"datum": 8.0, "axis": null}, "y": {"datum": 183, "axis": null}, "text": {"value": ["Summer", "μ= 0.9 ppm", "1σ= 2.9 ppm", "IQR= 4.2 ppm", "median=1.1 ppm"]}}}
 ]
}
]
}
